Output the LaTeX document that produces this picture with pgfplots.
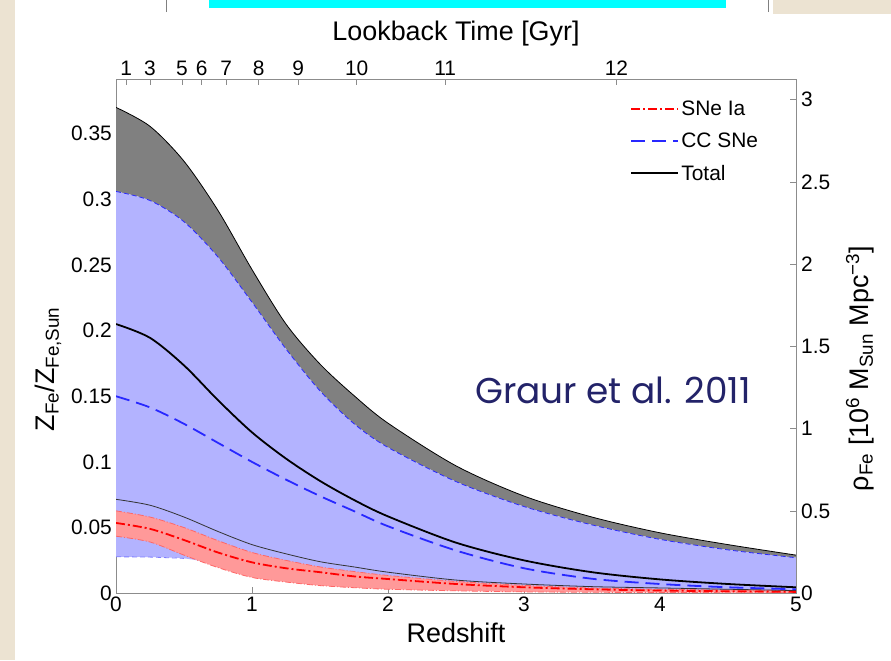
\documentclass[border=0pt]{standalone}
\usepackage{fontspec}
\setmainfont{Liberation Sans}
\newfontfamily\graurfont{Poppins}
\usepackage{pgfplots}
\usepackage{pgfplotstable}
\pgfplotsset{compat=1.18}
\usepgfplotslibrary{fillbetween}
\definecolor{beige}{RGB}{236,227,210}
\definecolor{bluefill}{RGB}{179,179,255}
\definecolor{grayfill}{RGB}{128,128,128}
\definecolor{redfill}{RGB}{255,153,153}
\definecolor{lblue}{RGB}{40,40,255}
\definecolor{navy}{RGB}{35,35,105}
\definecolor{axgray}{RGB}{140,140,140}
\definecolor{purecyan}{RGB}{0,255,255}
\pgfplotstableread{
z     gtop    btop   tmid    cmid    tlow    rtop    rmid    rlow    blow
0     0.370   0.306  0.205   0.150   0.0715  0.0627  0.0535  0.0434  0.0277
0.25  0.3556  0.2991 0.1945  0.1415  0.067   0.058   0.049   0.039   0.0275
0.5   0.329   0.2829 0.1735  0.129   0.058   0.050   0.0405  0.029   0.0265
0.75  0.2915  0.256  0.147   0.1145  0.047   0.040   0.031   0.0195  0.022
1.0   0.2465  0.2216 0.1225  0.100   0.037   0.031   0.0235  0.012   0.016
1.25  0.205   0.186  0.1025  0.0865  0.030   0.025   0.019   0.0085  0.012
1.5   0.1745  0.1541 0.0855  0.074   0.024   0.020   0.016   0.0058  0.009
1.75  0.1505  0.1291 0.071   0.0625  0.020   0.0165  0.0128  0.0042  0.007
2.0   0.1295  0.111  0.0585  0.051   0.016   0.0135  0.0108  0.003   0.006
2.5   0.097   0.085  0.0385  0.0325  0.010   0.009   0.007   0.0018  0.004
3.0   0.074   0.066  0.025   0.019   0.007   0.006   0.0045  0.001   0.003
3.5   0.058   0.052  0.016   0.011   0.005   0.004   0.003   0.0007  0.002
4.0   0.046   0.041  0.0105  0.007   0.004   0.003   0.002   0.0005  0.0015
4.5   0.037   0.033  0.007   0.0045  0.003   0.0025  0.0015  0.0004  0.0012
5.0   0.029   0.027  0.0045  0.003   0.002   0.002   0.001   0.0003  0.001
}\data
\begin{document}
\begin{tikzpicture}[x=1bp,y=1bp]
\path (0,0) rectangle (891,660);
\fill[beige] (0,0) rectangle (15,660);
\fill[beige] (773,646) rectangle (891,660);
\fill[purecyan] (209,652) rectangle (726,660);
\draw[gray] (166,648) -- (166,660);
\draw[gray] (768,648) -- (768,660);
\begin{axis}[
  at={(116bp,67bp)}, anchor=south west,
  scale only axis, width=680bp, height=514bp,
  xmin=0, xmax=5, ymin=0, ymax=0.3915,
  xtick pos=left, ytick pos=left,
  tick align=inside, major tick length=6bp,
  axis line style={axgray, line width=0.9bp},
  tick style={axgray, line width=0.9bp},
  xtick={0,1,2,3,4,5}, xticklabels={0,1,2,3,4,5},
  ytick={0,0.05,0.1,0.15,0.2,0.25,0.3,0.35},
  yticklabels={0,0.05,0.1,0.15,0.2,0.25,0.3,0.35},
  tick label style={font=\fontsize{21}{24}\selectfont},
  yticklabel style={inner xsep=4bp},
  xlabel={Redshift},
  xlabel style={font=\fontsize{27}{30}\selectfont, at={(axis description cs:0.5,-0.078)}, anchor=center},
  ylabel={Z\textsubscript{Fe}/Z\textsubscript{Fe,Sun}},
  ylabel style={font=\fontsize{27}{30}\selectfont, at={(axis description cs:-0.1000,0.436)}, anchor=center},
  legend style={draw=none, fill=none, at={(axis description cs:0.752,0.966)}, anchor=north west,
    font=\fontsize{21}{24}\selectfont, row sep=12bp},
  legend cell align=left,
  legend image code/.code={\draw[#1] (0bp,0bp) -- (40bp,0bp); \path (0bp,0bp) -- (47bp,0bp);},
]
\addlegendimage{red, line width=1.8bp, dash pattern=on 9bp off 3bp on 2bp off 3bp}
\addlegendentry{SNe Ia}
\addlegendimage{lblue, line width=1.8bp, dash pattern=on 14bp off 7bp}
\addlegendentry{CC SNe}
\addlegendimage{black, line width=1.8bp}
\addlegendentry{Total}
% boundary paths
\addplot[draw=none, smooth, name path=gtop, forget plot] table[x=z,y=gtop]{\data};
\addplot[draw=none, smooth, name path=btop, forget plot] table[x=z,y=btop]{\data};
\addplot[draw=none, smooth, name path=blow, forget plot] table[x=z,y=blow]{\data};
\addplot[draw=none, smooth, name path=rtop, forget plot] table[x=z,y=rtop]{\data};
\addplot[draw=none, smooth, name path=rlow, forget plot] table[x=z,y=rlow]{\data};
% fills
\addplot[grayfill, forget plot] fill between[of=gtop and btop];
\addplot[bluefill, forget plot] fill between[of=btop and blow];
\addplot[redfill, forget plot] fill between[of=rtop and rlow];
% edges
\addplot[lblue!60, line width=0.8bp, dash pattern=on 5bp off 3bp, smooth, restrict x to domain=0:0.55, forget plot] table[x=z,y=blow]{\data};
\addplot[black, line width=0.8bp, smooth, forget plot] table[x=z,y=gtop]{\data};
\addplot[lblue, line width=0.8bp, dash pattern=on 5bp off 3bp, smooth, forget plot] table[x=z,y=btop]{\data};
\addplot[red!60, line width=0.8bp, dash pattern=on 6bp off 2bp on 1bp off 2bp, smooth, forget plot] table[x=z,y=rtop]{\data};
\addplot[red!60, line width=0.8bp, dash pattern=on 6bp off 2bp on 1bp off 2bp, smooth, forget plot] table[x=z,y=rlow]{\data};
\addplot[black!80, line width=0.8bp, smooth, forget plot] table[x=z,y=tlow]{\data};
% central lines
\addplot[lblue, line width=1.8bp, dash pattern=on 14bp off 7bp, smooth, forget plot] table[x=z,y=cmid]{\data};
\addplot[black, line width=1.8bp, smooth, forget plot] table[x=z,y=tmid]{\data};
\addplot[red, line width=1.8bp, dash pattern=on 9bp off 3bp on 2bp off 3bp, smooth, forget plot] table[x=z,y=rmid]{\data};
\end{axis}
\begin{axis}[
  at={(116bp,67bp)}, anchor=south west,
  scale only axis, width=680bp, height=514bp,
  xmin=0, xmax=5, ymin=0, ymax=3.125,
  axis x line*=top, axis y line*=right,
  tick align=inside, major tick length=6bp,
  axis line style={axgray, line width=0.9bp, -},
  tick style={axgray, line width=0.9bp},
  xtick={0.075,0.25,0.485,0.63,0.81,1.05,1.34,1.77,2.42,3.68},
  xticklabels={1,3,5,6,7,8,9,10,11,12},
  ytick={0,0.5,1,1.5,2,2.5,3},
  yticklabels={0,0.5,1,1.5,2,2.5,3},
  tick label style={font=\fontsize{21}{24}\selectfont},
  xticklabel style={inner ysep=3bp},
  yticklabel style={inner xsep=5bp},
  xlabel={Lookback Time [Gyr]},
  xlabel style={font=\fontsize{27}{30}\selectfont, at={(axis description cs:0.5,1.089)}, anchor=center},
  ylabel={ρ\textsubscript{Fe} [10\textsuperscript{6} M\textsubscript{Sun} Mpc\textsuperscript{−3}]},
  ylabel style={font=\fontsize{27}{30}\selectfont, at={(axis description cs:1.094,0.437)}, anchor=center},
]
\addplot[draw=none, forget plot] coordinates {(0,0) (5,3)};
\end{axis}
\node[text=navy, font=\graurfont\fontsize{36}{40}\selectfont] at (613,270) {Graur et al. 2011};
\end{tikzpicture}
\end{document}
